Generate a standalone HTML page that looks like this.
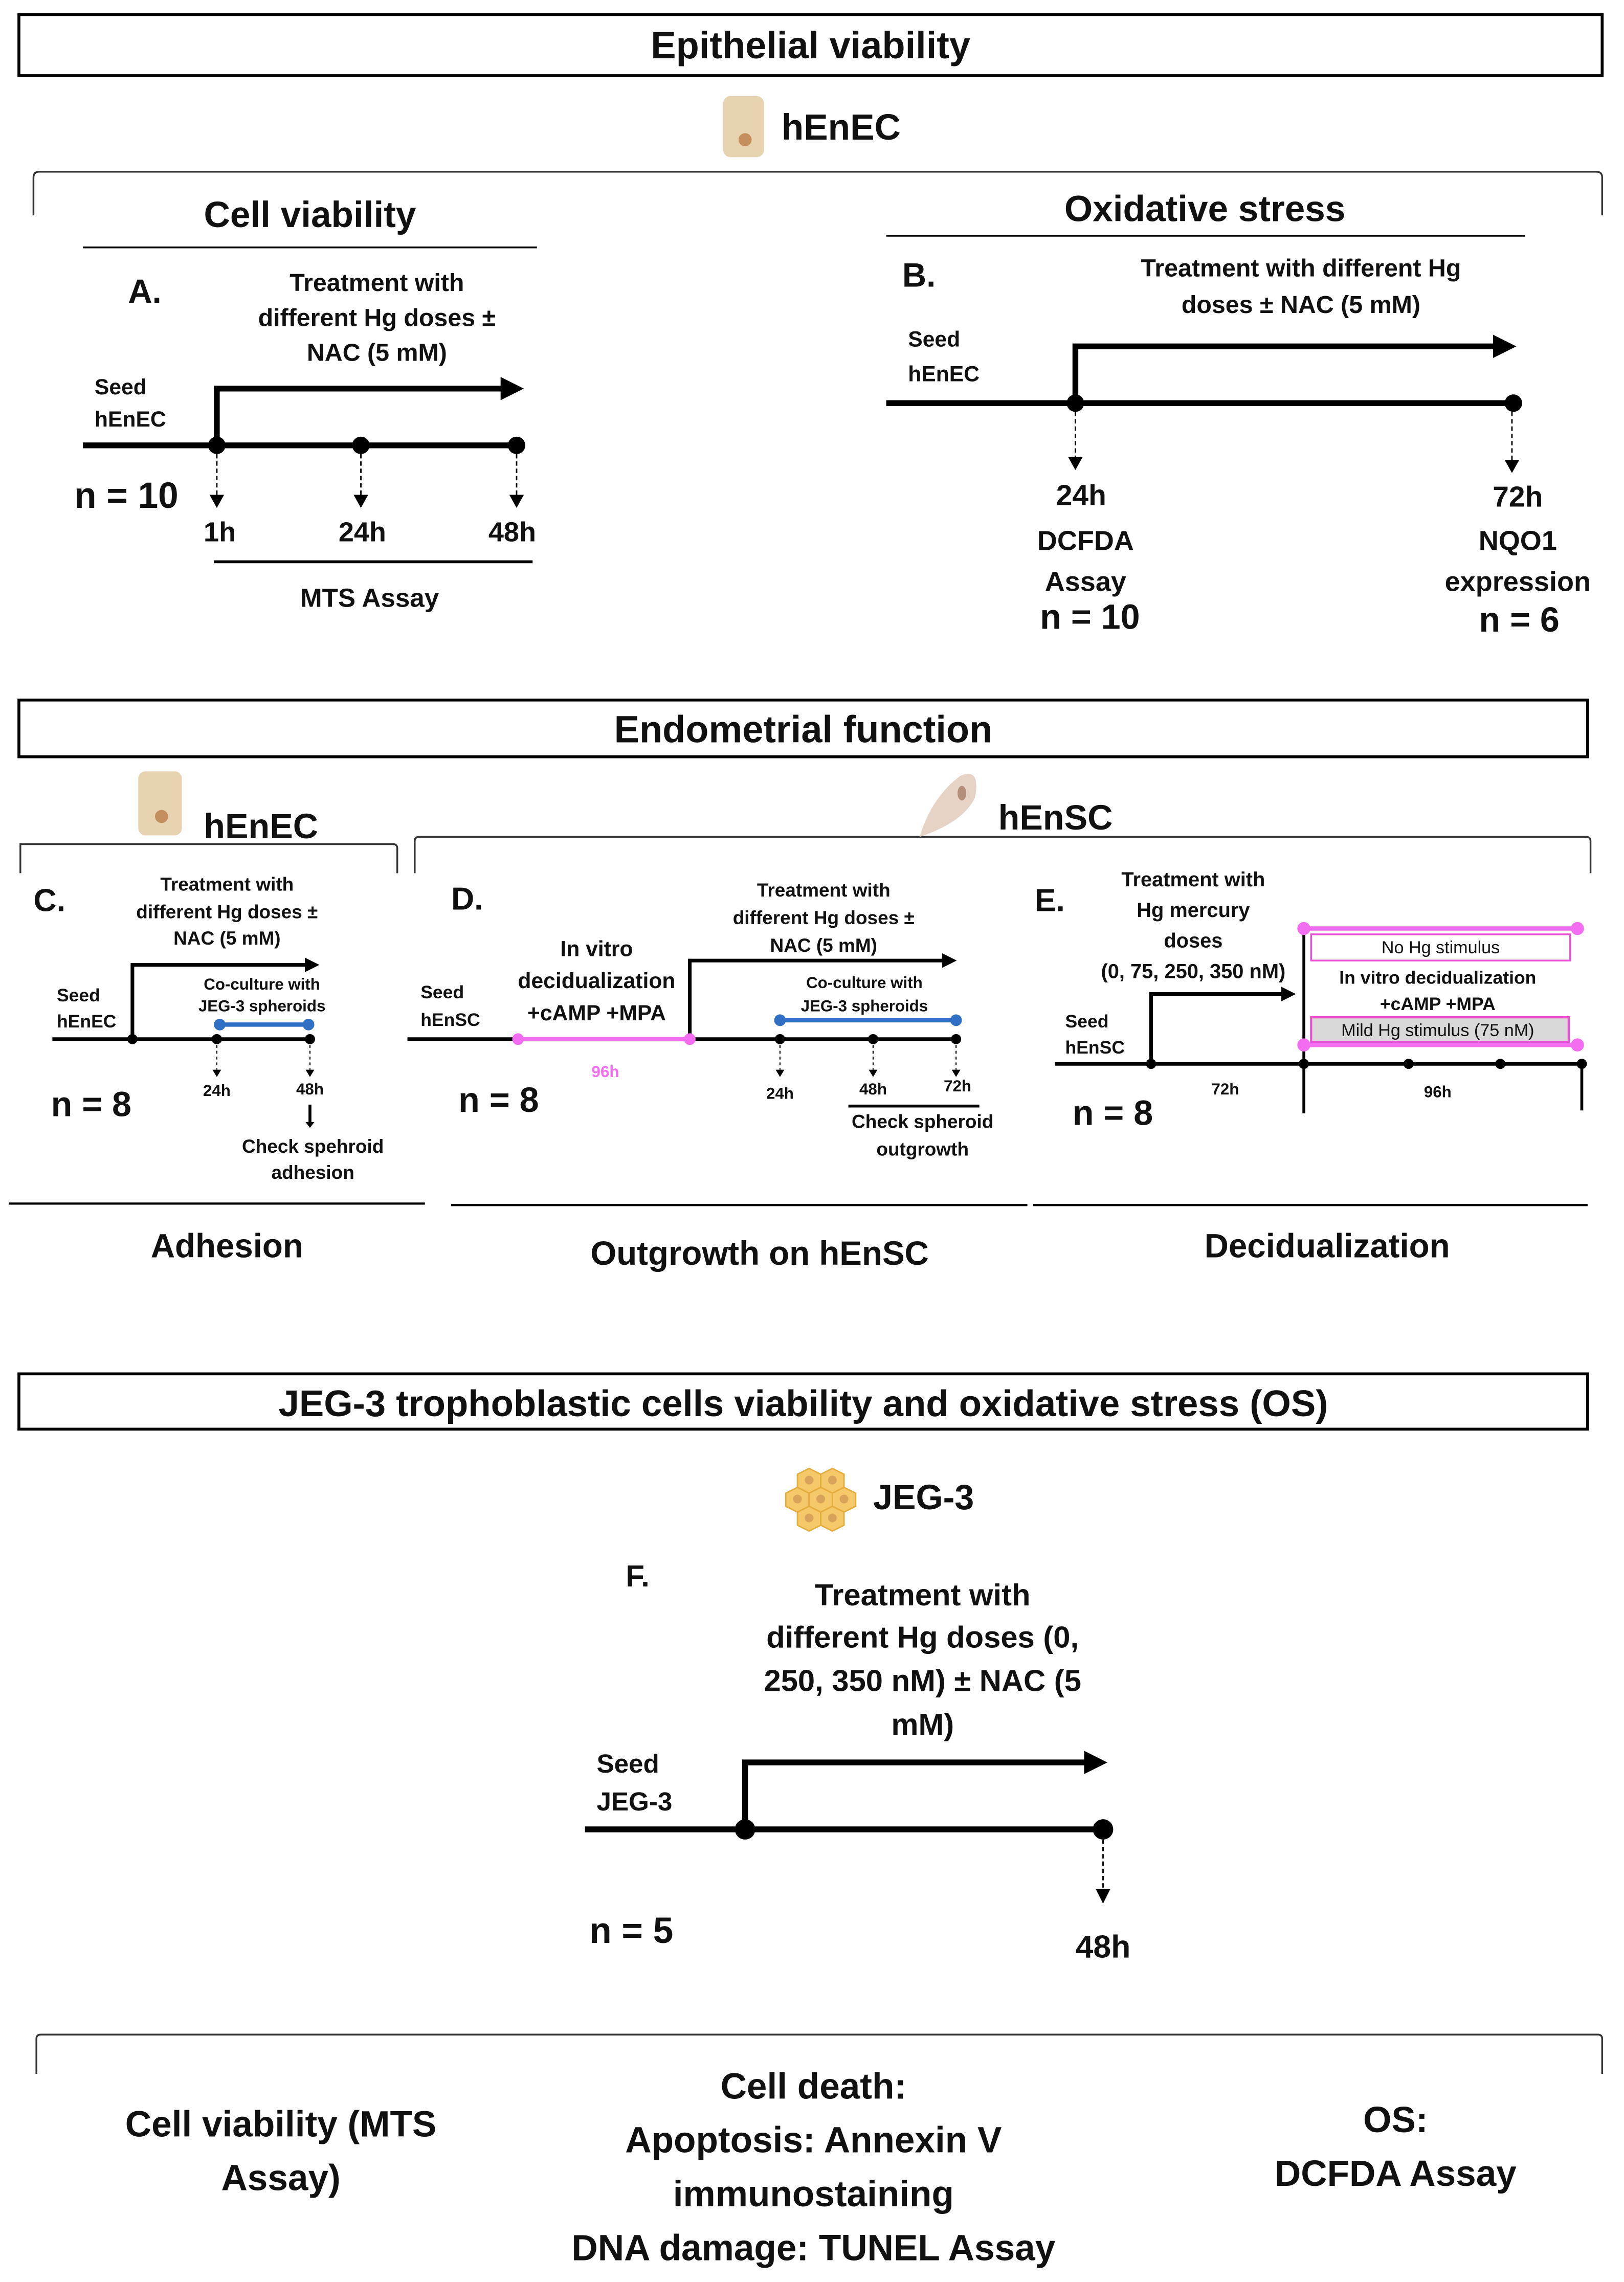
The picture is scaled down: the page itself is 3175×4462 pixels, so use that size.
<!DOCTYPE html>
<html><head><meta charset="utf-8"><style>
html,body{margin:0;padding:0;background:#fff;}
svg{display:block;}
text{font-family:"Liberation Sans",sans-serif;font-weight:bold;fill:#111;}
.n{font-family:"Liberation Sans Narrow","Liberation Sans",sans-serif;}
</style></head><body>
<svg width="3175" height="4462" viewBox="0 0 1116 1568" preserveAspectRatio="none" xmlns="http://www.w3.org/2000/svg">
<defs>
<marker id="ah" markerWidth="4" markerHeight="4" refX="3" refY="2" orient="auto" markerUnits="strokeWidth"><path d="M0,0 L4,2 L0,4 z" fill="#000"/></marker>
</defs>
<g fill="none" stroke="#000">
<rect x="13" y="10" width="1088" height="42" stroke-width="2"/>
<rect x="13" y="481" width="1078" height="39" stroke-width="2"/>
<rect x="13" y="944" width="1078" height="38" stroke-width="2"/>
<path d="M23,148 V122 Q23,118 27,118 H1097 Q1101,118 1101,122 V148" stroke="#333" stroke-width="1.2"/>
<path d="M14,600 V580 H270 Q273,580 273,583 V600" stroke="#333" stroke-width="1.2"/>
<path d="M285,600 V578 Q285,575 288,575 H1090 Q1093,575 1093,578 V600" stroke="#333" stroke-width="1.2"/>
<path d="M25,1425 V1401 Q25,1398 28,1398 H1098 Q1101,1398 1101,1401 V1425" stroke="#333" stroke-width="1.2"/>
<line x1="57" y1="170" x2="369" y2="170" stroke-width="1.2"/>
<line x1="609" y1="162" x2="1048" y2="162" stroke-width="1.2"/>
<line x1="147" y1="386" x2="366" y2="386" stroke-width="2"/>
<line x1="6" y1="827" x2="292" y2="827" stroke-width="1.5"/>
<line x1="310" y1="828" x2="706" y2="828" stroke-width="1.5"/>
<line x1="710" y1="828" x2="1091" y2="828" stroke-width="1.5"/>
<line x1="57" y1="306" x2="357" y2="306" stroke-width="4"/>
<path d="M149,306 V267 H356" stroke-width="4" marker-end="url(#ah)"/>
<g stroke-width="1" stroke-dasharray="3,2"><line x1="149" y1="312" x2="149" y2="340"/><line x1="248" y1="312" x2="248" y2="340"/><line x1="355" y1="312" x2="355" y2="340"/></g>
<line x1="609" y1="277" x2="1040" y2="277" stroke-width="4"/>
<path d="M739,277 V238 H1038" stroke-width="4" marker-end="url(#ah)"/>
<g stroke-width="1" stroke-dasharray="3,2"><line x1="739" y1="283" x2="739" y2="314"/><line x1="1039" y1="283" x2="1039" y2="316"/></g>
<line x1="36" y1="714" x2="215" y2="714" stroke-width="2.5"/>
<path d="M91,714 V663 H217" stroke-width="2.5" marker-end="url(#ah)"/>
<line x1="151" y1="704" x2="212" y2="704" stroke="#2f6fc4" stroke-width="3"/>
<g stroke-width="0.8" stroke-dasharray="2,2"><line x1="149" y1="718" x2="149" y2="735"/><line x1="213" y1="718" x2="213" y2="735"/></g>
<line x1="213" y1="759" x2="213" y2="772" stroke-width="2"/>
<line x1="280" y1="714" x2="658" y2="714" stroke-width="2.5"/>
<line x1="356" y1="714" x2="474" y2="714" stroke="#f36df0" stroke-width="3"/>
<path d="M474,714 V660 H655" stroke-width="2.5" marker-end="url(#ah)"/>
<line x1="536" y1="701" x2="657" y2="701" stroke="#2f6fc4" stroke-width="3"/>
<g stroke-width="0.8" stroke-dasharray="2,2"><line x1="536" y1="718" x2="536" y2="735"/><line x1="600" y1="718" x2="600" y2="735"/><line x1="657" y1="718" x2="657" y2="735"/></g>
<line x1="583" y1="760" x2="673" y2="760" stroke-width="2"/>
<line x1="725" y1="731" x2="1087" y2="731" stroke-width="2.5"/>
<path d="M791,731 V683 H888" stroke-width="2.5" marker-end="url(#ah)"/>
<line x1="896" y1="638" x2="896" y2="765" stroke-width="2"/>
<line x1="1087" y1="731" x2="1087" y2="763" stroke-width="2"/>
<line x1="896" y1="638" x2="1084" y2="638" stroke="#f36df0" stroke-width="3"/>
<line x1="896" y1="718" x2="1084" y2="718" stroke="#f36df0" stroke-width="3"/>
<rect x="901" y="642" width="178" height="18" stroke="#e850d8" stroke-width="1.2" fill="#fff"/>
<rect x="901" y="699" width="177" height="17" stroke="#e850d8" stroke-width="1.5" fill="#d9d9d9"/>
<line x1="402" y1="1257" x2="758" y2="1257" stroke-width="4"/>
<path d="M512,1257 V1211 H757" stroke-width="4" marker-end="url(#ah)"/>
<line x1="758" y1="1264" x2="758" y2="1298" stroke-width="1" stroke-dasharray="3,2"/>
</g>
<g fill="#000">
<path d="M144,340 h10 l-5,9z"/><path d="M243,340 h10 l-5,9z"/><path d="M350,340 h10 l-5,9z"/>
<path d="M734,314 h10 l-5,9z"/><path d="M1034,316 h10 l-5,9z"/>
<path d="M146,735 h6 l-3,5z"/><path d="M210,735 h6 l-3,5z"/>
<path d="M533,735 h6 l-3,5z"/><path d="M597,735 h6 l-3,5z"/><path d="M654,735 h6 l-3,5z"/>
<path d="M210,771 h6 l-3,4z"/>
<path d="M753,1298 h10 l-5,10z"/>
<circle cx="149" cy="306" r="6"/><circle cx="248" cy="306" r="6"/><circle cx="355" cy="306" r="6"/>
<circle cx="739" cy="277" r="6"/><circle cx="1040" cy="277" r="6"/>
<circle cx="91" cy="714" r="3.5"/><circle cx="149" cy="714" r="3.5"/><circle cx="213" cy="714" r="3.5"/>
<circle cx="536" cy="714" r="3.5"/><circle cx="600" cy="714" r="3.5"/><circle cx="657" cy="714" r="3.5"/>
<circle cx="791" cy="731" r="3.5"/><circle cx="896" cy="731" r="3.5"/><circle cx="968" cy="731" r="3.5"/><circle cx="1031" cy="731" r="3.5"/><circle cx="1087" cy="731" r="3.5"/>
<circle cx="512" cy="1257" r="7"/><circle cx="758" cy="1257" r="7"/>
</g>
<g fill="#2f6fc4"><circle cx="151" cy="704" r="4"/><circle cx="212" cy="704" r="4"/><circle cx="536" cy="701" r="4"/><circle cx="657" cy="701" r="4"/></g>
<g fill="#f36df0"><circle cx="356" cy="714" r="4"/><circle cx="474" cy="714" r="4"/><circle cx="896" cy="638" r="4.5"/><circle cx="1084" cy="638" r="4.5"/><circle cx="896" cy="718" r="4.5"/><circle cx="1084" cy="718" r="4.5"/></g>
<rect x="497" y="66" width="28" height="42" rx="5" fill="#e8d3b0"/><circle cx="512" cy="96" r="4.5" fill="#c58e5e"/>
<rect x="95" y="530" width="30" height="44" rx="5" fill="#e8d3b0"/><circle cx="111" cy="561" r="4.5" fill="#c58e5e"/>
<path d="M632,575 Q640,548 660,533 Q674,527 670,548 Q662,565 632,575z" fill="#e6d3c6"/><ellipse cx="661" cy="545" rx="3" ry="5" fill="#b58e7a"/>
<g fill="#f5c96a" stroke="#e3ac3c" stroke-width="1">
<polygon points="548,1013 556,1009 564,1013 564,1022 556,1026 548,1022"/>
<polygon points="564,1013 572,1009 580,1013 580,1022 572,1026 564,1022"/>
<polygon points="540,1026 548,1022 556,1026 556,1035 548,1039 540,1035"/>
<polygon points="556,1026 564,1022 572,1026 572,1035 564,1039 556,1035"/>
<polygon points="572,1026 580,1022 588,1026 588,1035 580,1039 572,1035"/>
<polygon points="548,1039 556,1035 564,1039 564,1048 556,1052 548,1048"/>
<polygon points="564,1039 572,1035 580,1039 580,1048 572,1052 564,1048"/>
</g>
<g fill="#d9a35a"><circle cx="556" cy="1017" r="3"/><circle cx="572" cy="1017" r="3"/><circle cx="548" cy="1030" r="3"/><circle cx="564" cy="1030" r="3"/><circle cx="580" cy="1030" r="3"/><circle cx="556" cy="1043" r="3"/><circle cx="572" cy="1043" r="3"/></g>
<g text-anchor="middle">
<text x="557" y="40" font-size="26">Epithelial viability</text>
<text x="552" y="510" font-size="26">Endometrial function</text>
<text x="552" y="973" font-size="25.5">JEG-3 trophoblastic cells viability and oxidative stress (OS)</text>
<text x="213" y="156" font-size="25">Cell viability</text>
<text x="828" y="152" font-size="25">Oxidative stress</text>
<text x="259" y="200" font-size="17">Treatment with</text>
<text x="259" y="224" font-size="17">different Hg doses ±</text>
<text x="259" y="248" font-size="17">NAC (5 mM)</text>
<text x="151" y="372" font-size="19">1h</text><text x="249" y="372" font-size="19">24h</text><text x="352" y="372" font-size="19">48h</text>
<text x="254" y="417" font-size="18">MTS Assay</text>
<text x="894" y="190" font-size="17">Treatment with different Hg</text>
<text x="894" y="215" font-size="17">doses ± NAC (5 mM)</text>
<text x="743" y="347" font-size="20">24h</text><text x="746" y="378" font-size="19">DCFDA</text><text x="746" y="406" font-size="19">Assay</text><text x="749" y="432" font-size="24">n = 10</text>
<text x="1043" y="348" font-size="20">72h</text><text x="1043" y="378" font-size="19">NQO1</text><text x="1043" y="406" font-size="19">expression</text><text x="1044" y="434" font-size="24">n = 6</text>
<text class="n" x="156" y="612" font-size="13">Treatment with</text>
<text class="n" x="156" y="631" font-size="13">different Hg doses ±</text>
<text class="n" x="156" y="649" font-size="13">NAC (5 mM)</text>
<text class="n" x="180" y="680" font-size="11">Co-culture with</text>
<text class="n" x="180" y="695" font-size="11">JEG-3 spheroids</text>
<text class="n" x="149" y="753" font-size="11">24h</text><text class="n" x="213" y="752" font-size="11">48h</text>
<text class="n" x="215" y="792" font-size="13">Check spehroid</text><text class="n" x="215" y="810" font-size="13">adhesion</text>
<text class="n" x="410" y="657" font-size="15">In vitro</text>
<text class="n" x="410" y="679" font-size="15">decidualization</text>
<text class="n" x="410" y="701" font-size="15">+cAMP +MPA</text>
<text class="n" x="416" y="740" font-size="11" style="fill:#f36df0">96h</text>
<text class="n" x="566" y="616" font-size="13">Treatment with</text>
<text class="n" x="566" y="635" font-size="13">different Hg doses ±</text>
<text class="n" x="566" y="654" font-size="13">NAC (5 mM)</text>
<text class="n" x="594" y="679" font-size="11">Co-culture with</text>
<text class="n" x="594" y="695" font-size="11">JEG-3 spheroids</text>
<text class="n" x="536" y="755" font-size="11">24h</text><text class="n" x="600" y="752" font-size="11">48h</text><text class="n" x="658" y="750" font-size="11">72h</text>
<text class="n" x="634" y="775" font-size="13">Check spheroid</text><text class="n" x="634" y="794" font-size="13">outgrowth</text>
<text class="n" x="820" y="609" font-size="14">Treatment with</text>
<text class="n" x="820" y="630" font-size="14">Hg mercury</text>
<text class="n" x="820" y="651" font-size="14">doses</text>
<text class="n" x="820" y="672" font-size="14">(0, 75, 250, 350 nM)</text>
<text class="n" x="990" y="655" font-size="12" style="font-weight:normal">No Hg stimulus</text>
<text class="n" x="988" y="676" font-size="12.5">In vitro decidualization</text>
<text class="n" x="988" y="694" font-size="12.5">+cAMP +MPA</text>
<text class="n" x="988" y="712" font-size="12" style="font-weight:normal">Mild Hg stimulus (75 nM)</text>
<text class="n" x="842" y="752" font-size="11">72h</text><text class="n" x="988" y="754" font-size="11">96h</text>
<text x="156" y="864" font-size="23">Adhesion</text>
<text x="522" y="869" font-size="23">Outgrowth on hEnSC</text>
<text x="912" y="864" font-size="23">Decidualization</text>
<text x="634" y="1103" font-size="21">Treatment with</text>
<text x="634" y="1132" font-size="21">different Hg doses (0,</text>
<text x="634" y="1162" font-size="21">250, 350 nM) ± NAC (5</text>
<text x="634" y="1192" font-size="21">mM)</text>
<text x="758" y="1345" font-size="22">48h</text>
<text x="193" y="1468" font-size="25">Cell viability (MTS</text>
<text x="193" y="1505" font-size="25">Assay)</text>
<text x="559" y="1442" font-size="25">Cell death:</text>
<text x="559" y="1479" font-size="25">Apoptosis: Annexin V</text>
<text x="559" y="1516" font-size="25">immunostaining</text>
<text x="559" y="1553" font-size="25">DNA damage: TUNEL Assay</text>
<text x="959" y="1465" font-size="25">OS:</text>
<text x="959" y="1502" font-size="25">DCFDA Assay</text>
</g>
<text x="537" y="96" font-size="25">hEnEC</text>
<text x="88" y="208" font-size="23">A.</text>
<text x="65" y="271" font-size="15">Seed</text><text x="65" y="293" font-size="15">hEnEC</text>
<text x="51" y="349" font-size="25">n = 10</text>
<text x="620" y="197" font-size="23">B.</text>
<text x="624" y="238" font-size="15">Seed</text><text x="624" y="262" font-size="15">hEnEC</text>
<text x="140" y="576" font-size="24">hEnEC</text>
<text x="686" y="570" font-size="24">hEnSC</text>
<text x="23" y="626" font-size="22">C.</text>
<text x="39" y="688" font-size="12.5">Seed</text><text x="39" y="706" font-size="12.5">hEnEC</text>
<text x="35" y="767" font-size="24">n = 8</text>
<text x="310" y="625" font-size="22">D.</text>
<text x="289" y="686" font-size="12.5">Seed</text><text x="289" y="705" font-size="12.5">hEnSC</text>
<text x="315" y="764" font-size="24">n = 8</text>
<text x="711" y="626" font-size="22">E.</text>
<text x="732" y="706" font-size="12.5">Seed</text><text x="732" y="724" font-size="12.5">hEnSC</text>
<text x="737" y="773" font-size="24">n = 8</text>
<text x="600" y="1037" font-size="24">JEG-3</text>
<text x="430" y="1090" font-size="21">F.</text>
<text x="410" y="1218" font-size="18">Seed</text><text x="410" y="1244" font-size="18">JEG-3</text>
<text x="405" y="1335" font-size="25">n = 5</text>
</svg>
</body></html>
